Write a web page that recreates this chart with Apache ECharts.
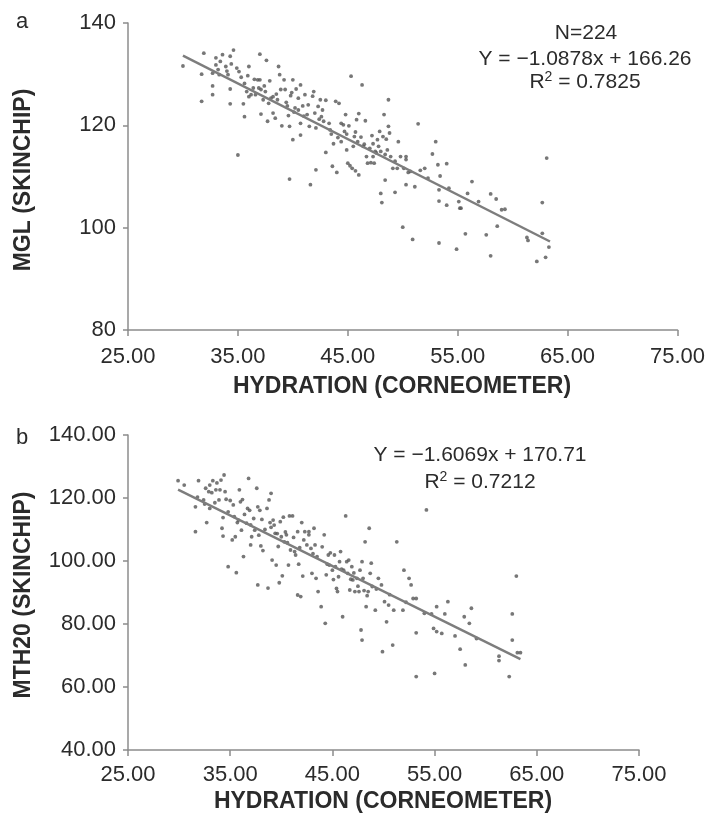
<!DOCTYPE html>
<html>
<head>
<meta charset="utf-8">
<script src="https://cdn.jsdelivr.net/npm/echarts@6/dist/echarts.min.js"></script>
<style>
  html, body { margin: 0; padding: 0; background: #ffffff; }
  #chart { width: 708px; height: 819px; }
</style>
</head>
<body>
<div id="chart"></div>
<script>
// Panel a: skin hydration (Corneometer) vs MGL (Skinchip), N = 224
const hydrationA = [
  30.0,31.9,31.7,32.7,32.7,32.7,31.7,33.0,33.0,33.2,
  33.3,33.6,34.3,34.6,34.4,34.1,34.3,34.3,33.9,34.9,
  35.1,35.3,35.5,35.6,35.0,36.0,35.9,35.8,36.0,36.4,
  36.6,36.8,37.0,37.0,37.1,37.1,37.3,37.5,37.6,37.7,
  37.8,37.9,38.2,38.2,38.4,38.6,38.7,38.8,38.9,39.0,
  39.2,39.3,39.5,39.6,39.7,39.7,39.9,40.0,40.0,40.2,
  40.3,40.5,40.5,40.7,40.7,40.9,41.1,41.3,41.5,41.6,
  41.8,41.9,42.0,42.1,42.1,42.3,42.5,42.6,42.7,43.0,
  43.3,43.4,43.6,43.7,43.9,44.0,44.2,44.4,44.4,44.6,
  44.7,44.8,44.9,45.0,45.1,45.2,45.3,45.4,45.5,45.6,
  45.7,45.8,45.9,46.0,46.0,46.2,46.3,46.4,46.6,46.7,
  46.8,47.1,47.3,47.3,47.4,47.5,47.7,47.8,47.9,48.0,
  48.0,48.1,48.2,48.3,48.4,48.5,48.6,48.7,48.7,48.8,
  48.9,49.1,49.3,49.5,49.6,49.8,50.0,50.1,50.3,50.3,
  50.3,50.5,50.7,50.9,51.1,51.4,52.0,52.3,52.7,53.0,
  53.2,53.3,53.3,53.3,53.4,54.0,54.0,54.2,54.9,55.1,
  55.2,55.3,55.7,55.9,56.3,56.9,57.6,58.0,58.0,58.5,
  58.6,59.0,59.3,61.3,61.4,62.2,62.7,62.7,63.0,63.1,
  63.3,36.2,36.9,38.0,39.4,40.1,41.0,42.4,43.5,44.1,
  45.7,46.5,47.0,47.6,33.4,34.0,36.5,37.4,38.5,39.8,
  41.4,42.8,44.9,47.2,48.4,49.3,51.6,43.0,40.7,35.6
];
const mglA = [
  131.6,134.1,130.0,130.2,127.7,126.0,124.7,133.2,131.8,130.9,
  129.9,133.8,133.5,134.7,132.0,129.9,127.1,124.2,131.5,131.2,
  130.5,129.4,124.2,121.7,114.2,131.5,129.7,126.6,125.6,127.3,
  126.0,128.9,133.9,128.9,127.0,122.2,125.0,126.6,132.7,120.8,
  124.3,128.7,125.6,122.4,121.4,125.0,131.5,129.9,127.0,119.9,
  128.9,127.0,123.8,121.9,119.8,109.5,126.4,128.9,117.2,123.4,
  127.1,125.3,123.0,120.4,118.1,123.8,126.0,122.1,119.8,108.4,
  125.7,126.6,122.4,119.5,111.3,123.7,125.0,121.7,123.0,114.7,
  120.4,119.1,112.0,116.4,124.7,110.8,124.3,120.4,116.8,120.1,
  118.8,122.1,115.2,112.6,119.9,112.1,129.6,111.6,115.9,117.8,
  111.1,121.1,116.8,110.3,122.3,117.7,127.9,115.9,120.9,113.9,
  112.6,112.7,113.9,116.4,112.6,114.9,117.2,115.9,118.8,114.9,
  106.7,104.9,117.8,122.1,109.3,117.3,115.2,125.0,119.8,118.5,
  113.9,111.6,106.9,111.6,116.8,113.9,100.1,111.6,113.9,113.3,
  108.4,110.8,111.0,97.7,108.0,120.3,111.6,109.7,114.4,116.8,
  112.3,107.4,105.2,97.0,110.1,112.5,104.4,107.7,95.8,105.1,
  103.8,103.8,98.8,106.7,109.0,105.1,98.6,94.5,106.6,105.6,
  100.3,103.5,103.6,98.1,97.5,93.4,104.9,98.9,94.2,113.6,
  96.2,126.0,127.3,125.3,124.5,122.6,121.8,121.2,118.3,117.6,
  118.7,116.3,115.5,114.6,132.5,130.6,129.0,127.7,126.1,125.8,
  124.0,120.8,118.3,118.0,114.3,113.0,111.2,124.9,127.9,128.2
];

// Panel b: skin hydration (Corneometer) vs MTH20 (Skinchip)
const hydrationB = [
  29.9,30.5,31.6,31.6,31.9,32.4,32.5,32.6,32.7,32.9,
  33.0,33.2,33.3,33.6,33.7,33.9,34.0,34.1,34.2,34.3,
  34.4,34.5,34.6,34.8,35.0,35.2,35.4,35.5,35.6,35.7,
  35.8,35.9,36.0,36.1,36.3,36.6,36.7,36.8,36.9,37.0,
  37.1,37.3,37.4,37.6,37.7,37.8,37.9,38.0,38.2,38.6,
  38.7,38.8,38.9,39.0,39.1,39.2,39.3,39.4,39.5,39.7,
  39.8,39.9,40.0,40.1,40.2,40.3,40.5,40.7,40.8,40.9,
  41.1,41.3,41.4,41.6,41.6,41.7,41.9,42.0,42.1,42.2,
  42.3,42.5,42.7,42.7,43.0,43.2,43.3,43.4,43.5,43.6,
  43.9,44.0,44.2,44.3,44.4,44.6,44.7,45.0,45.2,45.3,
  45.4,45.5,45.6,45.7,45.8,46.0,46.1,46.3,46.4,46.5,
  46.7,46.9,47.0,47.2,47.4,47.6,47.7,47.8,47.9,47.9,
  48.0,48.2,48.3,48.5,48.6,48.7,48.8,48.9,49.2,49.5,
  49.8,49.9,50.1,50.3,50.5,50.9,51.0,51.3,51.9,52.0,
  52.5,52.7,52.9,53.2,53.2,53.2,54.0,54.2,54.7,54.9,
  55.0,55.2,55.2,55.7,56.0,56.3,57.0,57.5,57.9,58.0,
  58.4,58.6,59.1,61.3,61.3,62.3,62.6,62.6,63.0,63.1,
  63.4,33.5,34.8,36.4,37.0,38.4,39.6,40.6,41.8,43.1,
  44.5,45.9,46.8,47.5,48.1,48.4,49.3,35.3,36.2,37.7,
  38.1,39.0,40.4,41.2,42.9,44.8,46.6,47.1,33.0,31.8,
  34.3,45.1,50.6,52.2
];
const mth20B = [
  125.5,124.1,117.2,109.3,125.5,119.4,118.1,123.1,112.2,122.0,
  124.1,121.7,125.5,122.6,124.8,119.4,122.6,125.7,110.4,107.9,
  127.3,122.0,119.6,98.2,119.2,106.7,114.1,107.7,96.3,112.2,
  113.0,122.6,118.8,109.8,101.4,112.0,116.7,126.2,116.1,105.1,
  107.7,113.5,109.8,123.1,92.4,108.2,116.1,104.8,103.3,116.7,
  91.4,119.4,112.2,121.5,100.3,113.0,111.4,108.8,98.7,104.6,
  93.1,112.5,107.7,95.3,113.9,106.1,108.3,98.7,114.3,103.5,
  114.3,103.0,101.9,89.2,109.3,99.0,88.7,112.2,95.2,106.7,
  109.3,105.1,109.3,108.3,96.1,110.4,105.1,94.5,101.4,90.3,
  85.5,104.5,108.3,80.2,95.6,101.9,98.7,97.1,101.9,98.2,
  91.3,90.3,95.0,99.8,103.0,82.3,97.1,114.3,99.8,96.1,
  90.8,98.2,94.0,90.3,94.5,90.3,97.1,78.1,74.9,99.8,
  94.5,106.1,85.5,90.3,110.4,96.1,99.3,91.9,84.4,94.5,
  92.4,71.2,87.1,80.7,86.0,73.3,84.4,106.1,84.4,97.1,
  94.5,92.4,88.1,88.1,77.2,63.3,83.4,116.2,83.2,78.6,
  64.3,85.5,77.6,77.0,83.2,87.1,76.2,72.0,82.3,67.0,
  80.2,85.0,75.4,69.8,68.4,63.3,83.2,74.9,95.2,70.9,
  70.9,118.5,115.6,114.8,111.5,110.0,108.7,105.8,104.2,102.3,
  99.0,97.4,94.2,92.0,90.6,89.0,91.1,117.8,119.5,117.2,
  113.2,110.7,109.2,107.5,104.0,102.6,100.3,96.2,116.7,120.3,
  113.8,94.1,89.3,86.9
];

// Linear fits printed on each panel
const fitA = { slope: -1.0878, intercept: 166.26, r2: 0.7825, n: 224, xFrom: 30.0, xTo: 63.4 };
const fitB = { slope: -1.6069, intercept: 170.71, r2: 0.7212, xFrom: 29.9, xTo: 63.4 };

// Axis ranges and ticks
const xTicks = [25, 35, 45, 55, 65, 75];
const yTicksA = [80, 100, 120, 140];
const yTicksB = [40, 60, 80, 100, 120, 140];

const pairs = (xs, ys) => xs.map((x, i) => [x, ys[i]]);
const fitLine = f => [f.xFrom, f.xTo].map(x => [x, +(f.slope * x + f.intercept).toFixed(3)]);

const BASE_FONT = '"Liberation Sans", Arial, Helvetica, sans-serif';
const AXIS_GRAY = '#8c8c8c';
const TEXT = '#2b2b2b';

function xAxisFor(gridIndex, margin) {
  return {
    type: 'value', gridIndex,
    min: xTicks[0], max: xTicks[xTicks.length - 1], interval: xTicks[1] - xTicks[0],
    axisLine: { show: true, onZero: false, lineStyle: { color: AXIS_GRAY, width: 1.5 } },
    axisTick: { show: true, inside: false, length: 6, lineStyle: { color: AXIS_GRAY, width: 1.5 } },
    axisLabel: { show: true, margin, fontFamily: BASE_FONT, fontSize: 22, color: TEXT,
                 lineHeight: 22, formatter: v => v.toFixed(2) },
    splitLine: { show: false }
  };
}
function yAxisFor(gridIndex, ticks, decimals) {
  return {
    type: 'value', gridIndex,
    min: ticks[0], max: ticks[ticks.length - 1], interval: ticks[1] - ticks[0],
    axisLine: { show: true, onZero: false, lineStyle: { color: AXIS_GRAY, width: 1.5 } },
    axisTick: { show: true, inside: false, length: 5, lineStyle: { color: AXIS_GRAY, width: 1.5 } },
    axisLabel: { show: true, margin: 12, fontFamily: BASE_FONT, fontSize: 22, color: TEXT,
                 formatter: v => v.toFixed(decimals) },
    splitLine: { show: false }
  };
}

function scatter(idx, data) {
  return {
    type: 'scatter', xAxisIndex: idx, yAxisIndex: idx, data,
    symbol: 'circle', symbolSize: 3.8,
    itemStyle: { color: '#555555', opacity: 0.8 },
    silent: true, z: 2
  };
}
function trend(idx, data) {
  return {
    type: 'line', xAxisIndex: idx, yAxisIndex: idx, data,
    showSymbol: false, symbol: 'none',
    lineStyle: { color: '#7d7d7d', width: 2.4 },
    silent: true, z: 3
  };
}

function label(text, x, y, opts = {}) {
  return {
    type: 'text', x, y, rotation: opts.rotation || 0,
    style: {
      text, fill: opts.fill || TEXT,
      font: opts.font || ('21px ' + BASE_FONT),
      textAlign: opts.align || 'center', textVerticalAlign: 'middle',
      rich: opts.rich
    }
  };
}
const supRich = {
  r: { fontFamily: BASE_FONT, fontSize: 21, color: TEXT, lineHeight: 24 },
  s: { fontFamily: BASE_FONT, fontSize: 14, color: TEXT, verticalAlign: 'top', lineHeight: 24 }
};
const fmtEq = f => 'Y = \u2212' + Math.abs(f.slope).toFixed(4) + 'x + ' + f.intercept.toFixed(2);

const chart = echarts.init(document.getElementById('chart'), null, { renderer: 'canvas' });
chart.setOption({
  backgroundColor: '#ffffff',
  animation: false,
  grid: [
    { left: 128, top: 23, width: 550, height: 307 },
    { left: 128, top: 435, width: 511, height: 315 }
  ],
  xAxis: [xAxisFor(0, 16), xAxisFor(1, 14)],
  yAxis: [yAxisFor(0, yTicksA, 0), yAxisFor(1, yTicksB, 2)],
  series: [
    scatter(0, pairs(hydrationA, mglA)),
    trend(0, fitLine(fitA)),
    scatter(1, pairs(hydrationB, mth20B)),
    trend(1, fitLine(fitB))
  ],
  graphic: [
    label('a', 16, 22, { align: 'left', font: '22px ' + BASE_FONT }),
    label('b', 16, 438, { align: 'left', font: '22px ' + BASE_FONT }),
    label('N=' + fitA.n, 586, 33),
    label(fmtEq(fitA), 585, 59),
    label('{r|R}{s|2}{r| = ' + fitA.r2.toFixed(4) + '}', 585, 82, { rich: supRich }),
    label(fmtEq(fitB), 480, 455),
    label('{r|R}{s|2}{r| = ' + fitB.r2.toFixed(4) + '}', 480, 482, { rich: supRich }),
    label('HYDRATION (CORNEOMETER)', 402, 387, { font: 'bold 23px ' + BASE_FONT }),
    label('HYDRATION (CORNEOMETER)', 383, 802, { font: 'bold 23px ' + BASE_FONT }),
    label('MGL (SKINCHIP)', 24, 180, { font: 'bold 23px ' + BASE_FONT, rotation: Math.PI / 2 }),
    label('MTH20 (SKINCHIP)', 24, 595, { font: 'bold 23px ' + BASE_FONT, rotation: Math.PI / 2 })
  ]
});
</script>
</body>
</html>
